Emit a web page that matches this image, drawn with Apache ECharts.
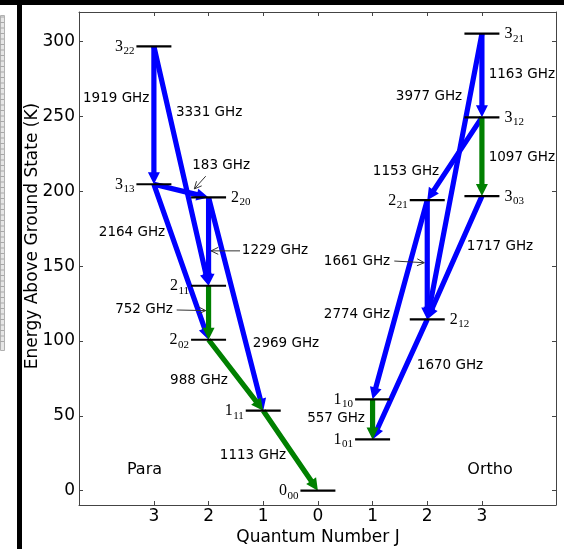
<!DOCTYPE html>
<html>
<head>
<meta charset="utf-8">
<script src="https://cdn.jsdelivr.net/npm/echarts@6/dist/echarts.min.js"></script>
<style>
html, body { margin: 0; padding: 0; background: #fff; }
#chart { width: 564px; height: 549px; }
</style>
</head>
<body>
<div id="chart"></div>
<script>
// Rotational energy levels of water (K above the ground state), name = J_KaKc
const paraLevels  = ['0_00', '1_11', '2_02', '2_11', '2_20', '3_13', '3_22'];
const paraEnergy  = [0, 53.4, 100.8, 136.9, 195.9, 204.7, 296.8];
const orthoLevels = ['1_01', '1_10', '2_12', '2_21', '3_03', '3_12', '3_21'];
const orthoEnergy = [34.2, 61.0, 114.4, 194.1, 196.8, 249.4, 305.3];

// Transitions: [upper level, lower level, frequency in GHz]
const blueTransitions = [
  ['3_22', '3_13', 1919], ['3_22', '2_11', 3331], ['3_13', '2_20', 183],
  ['3_13', '2_02', 2164], ['2_20', '2_11', 1229], ['2_20', '1_11', 2969],
  ['3_21', '3_12', 1163], ['3_21', '2_12', 3977], ['3_12', '2_21', 1153],
  ['3_03', '2_12', 1717], ['2_21', '2_12', 1661], ['2_21', '1_10', 2774],
  ['2_12', '1_01', 1670]
];
const greenTransitions = [
  ['2_11', '2_02', 752], ['2_02', '1_11', 988], ['1_11', '0_00', 1113],
  ['3_12', '3_03', 1097], ['1_10', '1_01', 557]
];

// Axis ticks: para J runs leftwards (negative side), ortho J rightwards
const jTicks = [-3, -2, -1, 0, 1, 2, 3];
const energyTicks = [0, 50, 100, 150, 200, 250, 300];

// ---------------------------------------------------------------- layout
const X_MIN = -4.37, X_MAX = 4.355, Y_MIN = -9.6, Y_MAX = 319.8;
const LEVEL_HALF = 0.32;
const rightLabelled = ['2_20', '3_21', '3_12', '3_03', '2_12'];
// frequency label anchors (data coordinates)
const freqLabelAt = {
  1919: [-3.69, 262.3], 3331: [-1.99, 252.4], 183: [-1.77, 217.5],
  2164: [-3.40, 172.8], 1229: [-0.785, 160.2], 752: [-3.18, 120.8],
  2969: [-0.584, 98.0], 988: [-2.175, 73.3], 1113: [-1.187, 23.2],
  557: [0.331, 47.9], 1163: [3.73, 277.8], 3977: [2.032, 263.1],
  1097: [3.73, 222.9], 1153: [1.611, 212.9], 1717: [3.331, 162.8],
  1661: [0.715, 153.4], 2774: [0.715, 118.0], 1670: [2.416, 83.3]
};
// thin pointer arrows from a label to its transition
const pointers = [
  [-2.052, 210.1, -2.261, 201.6],
  [-1.425, 160.2, -1.955, 160.2],
  [-2.583, 120.7, -2.052, 120.3],
  [1.397, 153.4, 1.946, 152.3]
];
const groupLabels = [['Para', -3.172, 13.8], ['Ortho', 3.148, 13.8]];

// --------------------------------------------------------------- helpers
const levelPos = {};
paraLevels.forEach((n, i) => { levelPos[n] = [-Number(n[0]), paraEnergy[i]]; });
orthoLevels.forEach((n, i) => { levelPos[n] = [Number(n[0]), orthoEnergy[i]]; });
const allLevels = paraLevels.concat(orthoLevels);

const SANS = '"DejaVu Sans", sans-serif';
const SERIF = '"Liberation Serif", "DejaVu Serif", serif';
const measureCtx = document.createElement('canvas').getContext('2d');
function textWidth(str, size, family) {
  measureCtx.font = size + 'px ' + family;
  return measureCtx.measureText(str).width;
}

function arrowData(list) {
  return list.map(t => levelPos[t[0]].concat(levelPos[t[1]]));
}

function makeArrowRenderer(color) {
  return function (params, api) {
    const p1 = api.coord([api.value(0), api.value(1)]);
    const p2 = api.coord([api.value(2), api.value(3)]);
    const dx = p2[0] - p1[0], dy = p2[1] - p1[1];
    const len = Math.sqrt(dx * dx + dy * dy);
    const ux = dx / len, uy = dy / len, nx = -uy, ny = ux;
    const w = 2.6, hw = 6, hl = 12;
    const bx = p2[0] - ux * hl, by = p2[1] - uy * hl;
    const pts = [
      [p1[0] + nx * w, p1[1] + ny * w],
      [bx + nx * w, by + ny * w],
      [bx + nx * hw, by + ny * hw],
      [p2[0], p2[1]],
      [bx - nx * hw, by - ny * hw],
      [bx - nx * w, by - ny * w],
      [p1[0] - nx * w, p1[1] - ny * w]
    ];
    return { type: 'polygon', shape: { points: pts }, style: { fill: color } };
  };
}

const axisColor = '#444';
const chart = echarts.init(document.getElementById('chart'), null, { renderer: 'canvas' });

const sideAxis = (extra) => Object.assign({
  type: 'value',
  splitLine: { show: false },
  axisLine: { show: true, onZero: false, lineStyle: { color: axisColor, width: 1 } },
  axisTick: { show: true, inside: true, length: 4, lineStyle: { color: axisColor } }
}, extra);

const option = {
  animation: false,
  backgroundColor: '#fff',
  grid: { left: 79, top: 12, width: 477, height: 493, containLabel: false },
  xAxis: [
    sideAxis({
      min: X_MIN, max: X_MAX, position: 'bottom',
      axisTick: { show: true, inside: true, length: 4, customValues: jTicks, lineStyle: { color: axisColor } },
      axisLabel: {
        customValues: jTicks, formatter: v => String(Math.abs(v)),
        fontSize: 17, fontFamily: SANS, color: '#000', margin: 3
      }
    }),
    sideAxis({
      min: X_MIN, max: X_MAX, position: 'top',
      axisTick: { show: true, inside: true, length: 4, customValues: jTicks, lineStyle: { color: axisColor } },
      axisLabel: { show: false }
    })
  ],
  yAxis: [
    sideAxis({
      min: Y_MIN, max: Y_MAX, position: 'left',
      axisTick: { show: true, inside: true, length: 4, customValues: energyTicks, lineStyle: { color: axisColor } },
      axisLabel: {
        customValues: energyTicks, fontSize: 17, fontFamily: SANS, color: '#000', margin: 4
      }
    }),
    sideAxis({
      min: Y_MIN, max: Y_MAX, position: 'right',
      axisTick: { show: true, inside: true, length: 4, customValues: energyTicks, lineStyle: { color: axisColor } },
      axisLabel: { show: false }
    })
  ],
  graphic: [
    // surrounding frame pieces of the figure
    { type: 'rect', left: 0, top: 0, shape: { width: 564, height: 5 }, style: { fill: '#000' }, z: 0 },
    { type: 'rect', left: 17, top: 0, shape: { width: 5, height: 549 }, style: { fill: '#000' }, z: 0 },
    { type: 'rect', left: 0, top: 15, shape: { width: 4, height: 335 }, style: { fill: '#e6e6e6', stroke: '#b0b0b0', lineWidth: 1 }, z: 0 },
    ...Array.from({ length: 60 }, (_, i) => ({
      type: 'line', shape: { x1: 0, y1: 17 + i * 5.5, x2: 4, y2: 17 + i * 5.5 },
      style: { stroke: '#a8a8a8', lineWidth: 1 }, z: 0
    })),
    // axis titles
    {
      type: 'text', x: 318, y: 538,
      style: { text: 'Quantum Number J', font: '17px ' + SANS, fill: '#000', align: 'center', verticalAlign: 'middle' }
    },
    {
      type: 'text', x: 33, y: 236, rotation: Math.PI / 2,
      style: { text: 'Energy Above Ground State (K)', font: '17px ' + SANS, fill: '#000', align: 'center', verticalAlign: 'middle' }
    }
  ],
  series: [
    {
      name: 'blue transitions', type: 'custom', clip: false, z: 2,
      encode: { x: [0, 2], y: [1, 3] },
      data: arrowData(blueTransitions),
      renderItem: makeArrowRenderer('#0000ff')
    },
    {
      name: 'green transitions', type: 'custom', clip: false, z: 2,
      encode: { x: [0, 2], y: [1, 3] },
      data: arrowData(greenTransitions),
      renderItem: makeArrowRenderer('#008000')
    },
    {
      name: 'levels', type: 'custom', clip: false, z: 3,
      encode: { x: 0, y: 1 },
      data: allLevels.map(n => levelPos[n]),
      renderItem: function (params, api) {
        const name = allLevels[params.dataIndex];
        const x = api.value(0), e = api.value(1);
        const a = api.coord([x - LEVEL_HALF, e]);
        const b = api.coord([x + LEVEL_HALF, e]);
        const main = name.split('_')[0], sub = name.split('_')[1];
        const mainSize = 16, subSize = 11;
        const mw = textWidth(main, mainSize, SERIF);
        const sw = textWidth(sub, subSize, SERIF);
        let mainLeft, subLeft;
        if (rightLabelled.indexOf(name) >= 0) {
          mainLeft = b[0] + 5;
          subLeft = mainLeft + mw + 0.5;
        } else {
          subLeft = a[0] - 2 - sw;
          mainLeft = subLeft - 0.5 - mw;
        }
        return {
          type: 'group',
          children: [
            { type: 'line', shape: { x1: a[0], y1: a[1], x2: b[0], y2: b[1] }, style: { stroke: '#000', lineWidth: 2.2 } },
            { type: 'text', x: mainLeft, y: a[1] + 0.5, style: { text: main, font: mainSize + 'px ' + SERIF, fill: '#000', align: 'left', verticalAlign: 'middle' } },
            { type: 'text', x: subLeft, y: a[1] + 5, style: { text: sub, font: subSize + 'px ' + SERIF, fill: '#000', align: 'left', verticalAlign: 'middle' } }
          ]
        };
      }
    },
    {
      name: 'pointers', type: 'custom', clip: false, z: 4,
      encode: { x: [0, 2], y: [1, 3] },
      data: pointers,
      renderItem: function (params, api) {
        const p1 = api.coord([api.value(0), api.value(1)]);
        const p2 = api.coord([api.value(2), api.value(3)]);
        const ang = Math.atan2(p2[1] - p1[1], p2[0] - p1[0]);
        const L = 8, spread = 0.45;
        const h1 = [p2[0] - L * Math.cos(ang - spread), p2[1] - L * Math.sin(ang - spread)];
        const h2 = [p2[0] - L * Math.cos(ang + spread), p2[1] - L * Math.sin(ang + spread)];
        const st = { stroke: '#333', lineWidth: 1, fill: null };
        return {
          type: 'group',
          children: [
            { type: 'line', shape: { x1: p1[0], y1: p1[1], x2: p2[0], y2: p2[1] }, style: st },
            { type: 'polyline', shape: { points: [h1, p2, h2] }, style: st }
          ]
        };
      }
    },
    {
      name: 'frequencies', type: 'custom', clip: false, z: 5,
      encode: { x: 0, y: 1 },
      data: blueTransitions.concat(greenTransitions).map(t => freqLabelAt[t[2]].concat([t[2]])),
      renderItem: function (params, api) {
        const p = api.coord([api.value(0), api.value(1)]);
        return {
          type: 'text', x: p[0], y: p[1],
          style: { text: api.value(2) + ' GHz', font: '13.5px ' + SANS, fill: '#000', align: 'center', verticalAlign: 'middle' }
        };
      }
    },
    {
      name: 'groups', type: 'custom', clip: false, z: 5,
      encode: { x: 0, y: 1 },
      data: groupLabels.map(g => [g[1], g[2]]),
      renderItem: function (params, api) {
        const p = api.coord([api.value(0), api.value(1)]);
        return {
          type: 'text', x: p[0], y: p[1],
          style: { text: groupLabels[params.dataIndex][0], font: '16px ' + SANS, fill: '#000', align: 'center', verticalAlign: 'middle' }
        };
      }
    }
  ]
};
chart.setOption(option);
</script>
</body>
</html>
